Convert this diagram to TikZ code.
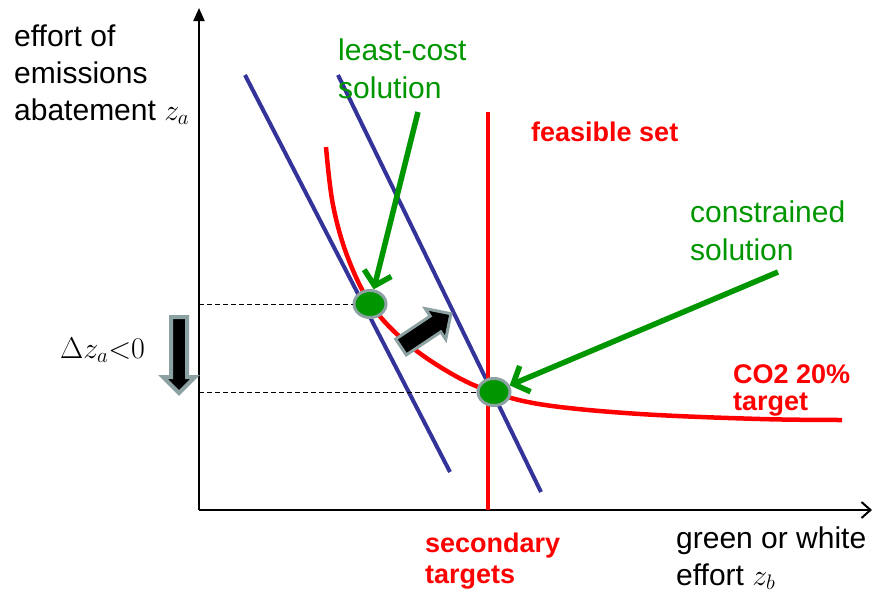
\RequirePackage{fix-cm}
\documentclass[tikz,border=0pt]{standalone}
\usepackage{fontspec}
\setmainfont{Liberation Sans}
\usetikzlibrary{arrows.meta,shapes.arrows,shapes.geometric}
\definecolor{gr}{RGB}{0,150,0}
\definecolor{bl}{RGB}{51,51,153}
\definecolor{rd}{RGB}{255,0,0}
\definecolor{gry}{RGB}{140,162,162}
\tikzset{
  lbl/.style={anchor=base west,inner sep=0pt,font=\fontsize{30}{36}\selectfont},
  glbl/.style={lbl,text=gr},
  rlbl/.style={anchor=base west,inner sep=0pt,text=rd,font=\fontsize{27}{32}\selectfont\bfseries},
  axis/.style={line width=2pt},
  budget/.style={bl,line width=4pt},
  redline/.style={rd,line width=4.5pt},
  dot/.style={ellipse,fill=gr,draw=gry,line width=3pt,minimum width=32pt,minimum height=27pt,inner sep=0pt},
  garrow/.style={gr,line width=5.5pt,-{Straight Barb[length=13pt,width=28pt,line width=5.5pt]}},
  guide/.style={black,line width=1pt,dash pattern=on 5pt off 3pt},
  blockarrow/.style={single arrow,fill=black,draw=gry,line width=3pt,inner sep=0pt}
}
\begin{document}
\begin{tikzpicture}[x=1pt,y=-1pt]
\useasboundingbox[fill=white] (0,0) rectangle (876,592);
% axes
\coordinate (o) at (199,510);
\coordinate (ytop) at (199,8);
\coordinate (xend) at (872,510);
\draw[axis,-{Triangle[length=13pt,width=11pt]}] (o) -- (ytop);
\draw[axis,-{Straight Barb[length=9pt,width=16pt,line width=2pt]}] (o) -- (xend);
% budget lines
\coordinate (b1s) at (245,75);
\coordinate (b1e) at (450,472);
\coordinate (b2s) at (338,75);
\coordinate (b2e) at (541,492);
\draw[budget] (b1s) -- (b1e);
\draw[budget] (b2s) -- (b2e);
% feasible vertical line
\coordinate (fvt) at (488,112);
\coordinate (fvb) at (488,510);
\draw[redline] (fvt) -- (fvb);
% CO2 target curve
\draw[redline] plot[smooth,tension=0.6] coordinates {(326,147) (333,205) (348,258) (372,306) (408,344) (452,374) (492,392) (545,405) (640,414) (760,419) (842,420)};
% dots
\node[dot] (d1) at (370,304) {};
\node[dot] (d2) at (494,392) {};
% dashed guides
\draw[guide] (o |- d1) -- (d1.west);
\draw[guide] (o |- d2) -- (d2.west);
% green arrows
\coordinate (g1) at (418,112);
\coordinate (g2) at (778,272);
\draw[garrow] (g1) -- (d1);
\draw[garrow] (g2) -- (d2);
% block arrows
\node[blockarrow,minimum height=60pt,minimum width=36pt,single arrow head extend=9pt,rotate=33.7] (shift) at (422,333) {\rule{0pt}{16pt}};
\node[blockarrow,line width=4pt,minimum height=76pt,minimum width=30pt,single arrow head extend=8pt,rotate=-90] (down) at (179,351) {\rule{0pt}{12pt}};
% labels
\node[lbl] (y1) at (14,46) {effort of};
\node[lbl] (y2) at (14,83) {emissions};
\node[lbl] (y3) at (14,120) {abatement $z_a$};
\node[glbl] (lc1) at (338,60) {least-cost};
\node[glbl] (lc2) at (338,98) {solution};
\node[rlbl] (fs) at (531,141) {feasible set};
\node[glbl] (cs1) at (690,222) {constrained};
\node[glbl] (cs2) at (690,260) {solution};
\node[rlbl] (co1) at (733,383) {CO2 20\%};
\node[rlbl] (co2) at (733,410) {target};
\node[rlbl] (st1) at (425,552) {secondary};
\node[rlbl] (st2) at (425,583) {targets};
\node[lbl] (x1) at (676,548) {green or white};
\node[lbl] (x2) at (676,585) {effort $z_b$};
\node[anchor=base west,inner sep=0pt,font=\fontsize{30}{34}\selectfont] (dz) at (60,358) {$\Delta z_a{<}0$};
\end{tikzpicture}
\end{document}
